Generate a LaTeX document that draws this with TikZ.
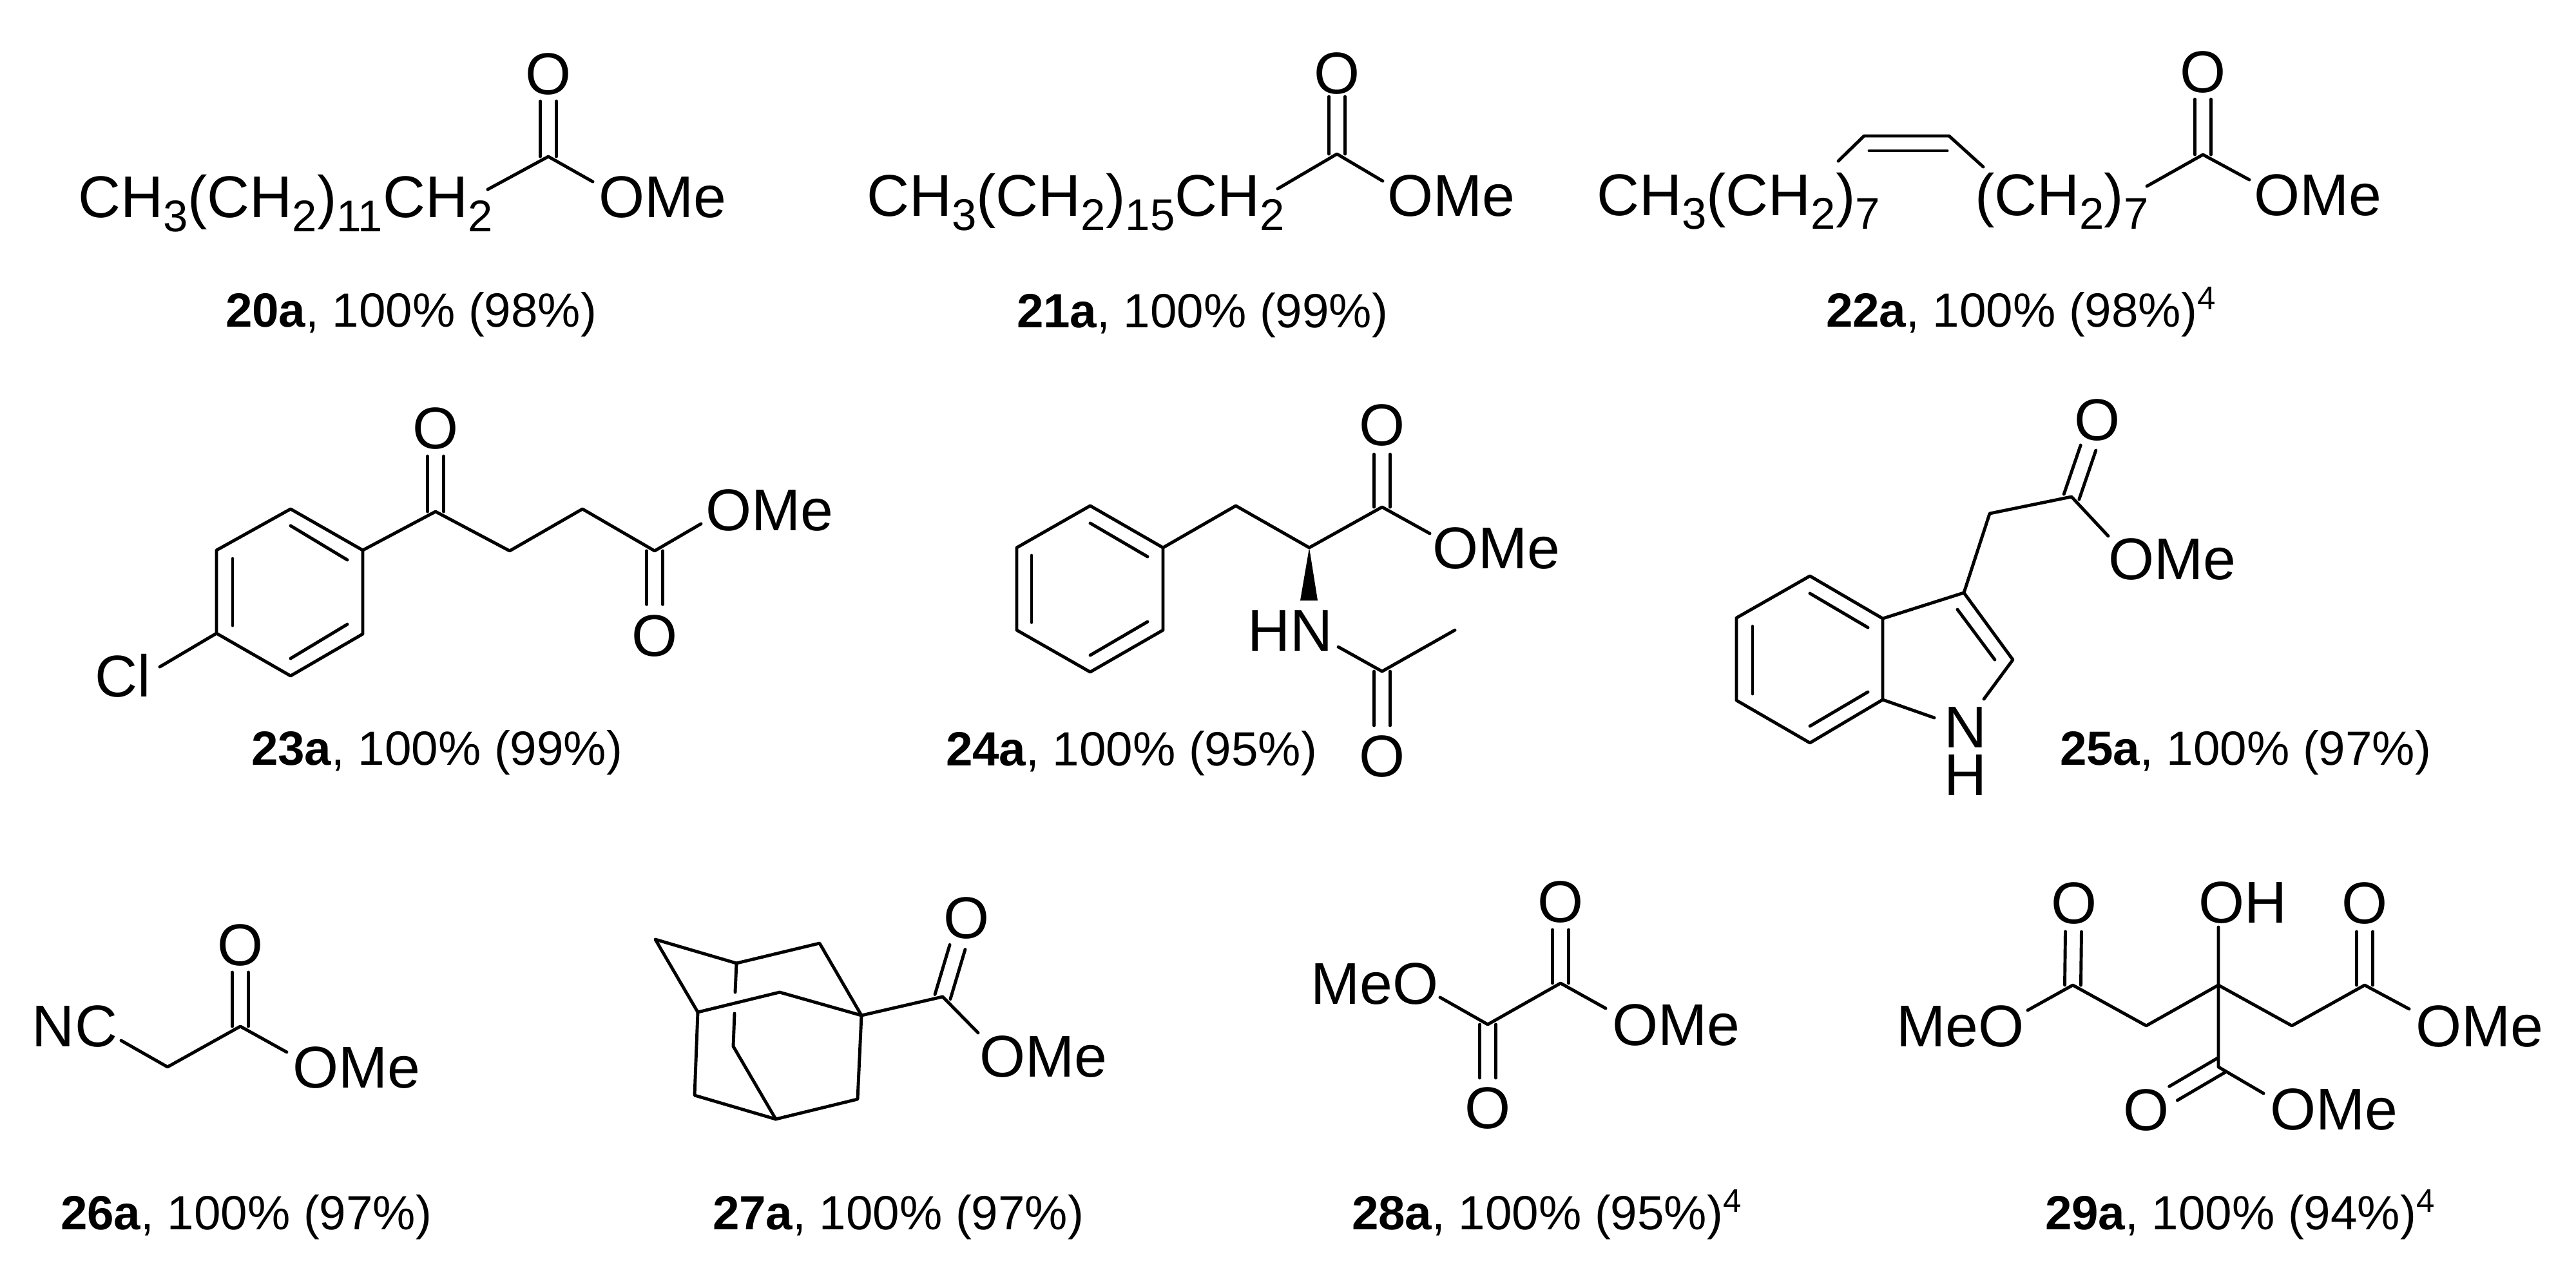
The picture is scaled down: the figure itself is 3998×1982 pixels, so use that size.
\documentclass[tikz,border=0pt]{standalone}
\usepackage{fontspec}
\setmainfont{Liberation Sans}
\usetikzlibrary{calc}
\newcommand{\sbs}[1]{\raisebox{-6.2pt}{\fontsize{19.6}{20}\selectfont #1}}
\newcommand{\spr}{\raisebox{7.8pt}{\fontsize{14.5}{15}\selectfont 4}}
\newcommand{\dblbond}[3][3.55pt]{%
  \draw[bond] ($(#2)!#1!90:(#3)$) -- ($(#3)!#1!-90:(#2)$);
  \draw[bond] ($(#2)!#1!-90:(#3)$) -- ($(#3)!#1!90:(#2)$);}
\newcommand{\atoms}[1]{\foreach \n/\px/\py in {#1}{\coordinate (\n) at (\px,\py);}}
\newcommand{\chain}[1]{\draw[bond] #1;}
\tikzset{
  bond/.style={line width=1.4pt,line cap=round,line join=round,draw=black},
  chem/.style={anchor=base west,inner sep=0pt,outer sep=0pt,font=\fontsize{26}{30}\selectfont},
  lab/.style={anchor=base west,inner sep=0pt,outer sep=0pt,yshift=-1pt,font=\fontsize{21.2}{26}\selectfont},
  oxy/.style={anchor=center,inner sep=0pt,outer sep=0pt,yshift=-0.6pt,font=\fontsize{26}{30}\selectfont}
}
\begin{document}
\begin{tikzpicture}[x=0.01cm,y=-0.01cm]
\useasboundingbox (0,0) rectangle (3998,1982);

% 20a
\atoms{a20c/851/243,a20o/851/157,a20l/757/294,a20r/920/282}
\dblbond{a20c}{a20o}
\chain{(a20l) -- (a20c) -- (a20r)}
\node[chem] (t20a) at (121,337.5) {CH\sbs{3}(CH\sbs{2})\sbs{11}CH\sbs{2}};
\node[chem] (t20b) at (929,337.5) {OMe};
\node[oxy] (t20o) at (851,113) {O};
\node[lab] (l20) at (350,504) {\textbf{20a}, 100\% (98\%)};

% 21a
\atoms{a21c/2075/239,a21o/2075/150,a21l/1983/293,a21r/2146/281}
\dblbond{a21c}{a21o}
\chain{(a21l) -- (a21c) -- (a21r)}
\node[chem] (t21a) at (1345,336) {CH\sbs{3}(CH\sbs{2})\sbs{15}CH\sbs{2}};
\node[chem] (t21b) at (2153,336) {OMe};
\node[oxy] (t21o) at (2075,112) {O};
\node[lab] (l21) at (1578,505) {\textbf{21a}, 100\% (99\%)};

% 22a
\atoms{a22c/3419/240,a22o/3419/154,a22l/3332/289,a22r/3491/279,
  a22p/2853/250,a22q/2893/211,a22s/3025/211,a22t/3078/259,a22u/2901/234,a22v/3022/234}
\dblbond{a22c}{a22o}
\chain{(a22l) -- (a22c) -- (a22r)}
\chain{(a22p) -- (a22q) -- (a22s) -- (a22t)}
\chain{(a22u) -- (a22v)}
\node[chem] (t22a) at (2478,334) {CH\sbs{3}(CH\sbs{2})\sbs{7}};
\node[chem] (t22m) at (3065,334) {(CH\sbs{2})\sbs{7}};
\node[chem] (t22b) at (3498,334) {OMe};
\node[oxy] (t22o) at (3419,110) {O};
\node[lab] (l22) at (2834,504) {\textbf{22a}, 100\% (98\%)\spr};

% 23a
\atoms{a23a/451/790,a23b/563/854,a23c/563/984,a23d/451/1049,a23e/336/983,a23f/336/854,
  a23g/451/816,a23h/539/869,a23i/361/867,a23j/361/971,a23k/451/1022,a23m/539/969,
  a23cl/248/1035,a23n/676/794,a23o/676/708,a23p/791/855,a23q/904/790,a23r/1016/855,
  a23s/1088/813,a23t/1016/938}
\chain{(a23a) -- (a23b) -- (a23c) -- (a23d) -- (a23e) -- (a23f) -- cycle}
\chain{(a23g) -- (a23h)}
\chain{(a23i) -- (a23j)}
\chain{(a23k) -- (a23m)}
\chain{(a23e) -- (a23cl)}
\chain{(a23b) -- (a23n) -- (a23p) -- (a23q) -- (a23r) -- (a23s)}
\dblbond{a23n}{a23o}
\dblbond{a23r}{a23t}
\node[chem] (t23c) at (147,1081) {Cl};
\node[chem] (t23b) at (1095,823) {OMe};
\node[oxy] (t23o) at (676,663) {O};
\node[oxy] (t23p) at (1016,985) {O};
\node[lab] (l23) at (390,1184) {\textbf{23a}, 100\% (99\%)};

% 24a
\atoms{a24a/1692/785,a24b/1805/850,a24c/1805/978,a24d/1692/1043,a24e/1578/978,a24f/1578/850,
  a24g/1692/812,a24h/1781/864,a24i/1601/862,a24j/1601/966,a24k/1692/1017,a24m/1781/965,
  a24n/1918/785,a24p/2032/850,a24q/2145/787,a24r/2219/828,a24s/2145/705,
  a24w/2018/932,a24x/2045/932,a24y/2077/1004,a24z/2145/1042,a24aa/2258/978,a24ab/2145/1126}
\chain{(a24a) -- (a24b) -- (a24c) -- (a24d) -- (a24e) -- (a24f) -- cycle}
\chain{(a24g) -- (a24h)}
\chain{(a24i) -- (a24j)}
\chain{(a24k) -- (a24m)}
\chain{(a24b) -- (a24n) -- (a24p) -- (a24q) -- (a24r)}
\dblbond{a24q}{a24s}
\fill[black] (a24p) -- (a24w) -- (a24x) -- cycle;
\chain{(a24y) -- (a24z) -- (a24aa)}
\dblbond{a24z}{a24ab}
\node[chem] (t24b) at (2223,882) {OMe};
\node[chem] (t24n) at (1936,1010) {HN};
\node[oxy] (t24o) at (2145,658) {O};
\node[oxy] (t24p) at (2145,1172) {O};
\node[lab] (l24) at (1468,1185) {\textbf{24a}, 100\% (95\%)};

% 25a
\atoms{a25a/2809/894,a25b/2922/960,a25c/2922/1086,a25d/2809/1153,a25e/2695/1087,a25f/2695/959,
  a25g/2809/921,a25h/2899/974,a25i/2720/972,a25j/2720/1077,a25k/2809/1127,a25m/2899/1074,
  a25n/3048/920,a25p/3124/1024,a25q/3079/1085,a25r/3002/1114,a25s/3038/946,a25t/3096/1024,
  a25u/3088/797,a25v/3215/771,a25w/3272/832,a25x/3241/695}
\chain{(a25a) -- (a25b) -- (a25c) -- (a25d) -- (a25e) -- (a25f) -- cycle}
\chain{(a25g) -- (a25h)}
\chain{(a25i) -- (a25j)}
\chain{(a25k) -- (a25m)}
\chain{(a25b) -- (a25n) -- (a25p) -- (a25q)}
\chain{(a25c) -- (a25r)}
\chain{(a25s) -- (a25t)}
\chain{(a25n) -- (a25u) -- (a25v) -- (a25w)}
\dblbond{a25v}{a25x}
\node[chem] (t25b) at (3272,899) {OMe};
\node[chem] (t25n) at (3017,1160) {N};
\node[chem] (t25h) at (3017,1234) {H};
\node[oxy] (t25o) at (3255,650) {O};
\node[lab] (l25) at (3197,1184) {\textbf{25a}, 100\% (97\%)};

% 26a
\atoms{a26a/188/1615,a26b/260/1656,a26c/373/1593,a26d/445/1633,a26e/373/1509}
\chain{(a26a) -- (a26b) -- (a26c) -- (a26d)}
\dblbond{a26c}{a26e}
\node[chem] (t26n) at (50,1624) {NC};
\node[chem] (t26b) at (454,1688) {OMe};
\node[oxy] (t26o) at (373,1465) {O};
\node[lab] (l26) at (94,1905) {\textbf{26a}, 100\% (97\%)};

% 27a
\atoms{a27a/1017/1458,a27b/1143/1495,a27c/1272/1464,a27d/1337/1576,a27e/1210/1540,a27f/1083/1571,
  a27g/1078/1700,a27h/1204/1737,a27i/1331/1706,a27j/1138/1624,a27k/1141/1540,a27m/1140/1573,
  a27n/1463/1547,a27p/1518/1603,a27q/1486/1470}
\chain{(a27a) -- (a27b) -- (a27c) -- (a27d) -- (a27e) -- (a27f) -- cycle}
\chain{(a27f) -- (a27g) -- (a27h) -- (a27i) -- (a27d)}
\chain{(a27b) -- (a27k)}
\chain{(a27m) -- (a27j) -- (a27h)}
\chain{(a27d) -- (a27n) -- (a27p)}
\dblbond{a27n}{a27q}
\node[chem] (t27b) at (1520,1671) {OMe};
\node[oxy] (t27o) at (1500,1423) {O};
\node[lab] (l27) at (1106,1905) {\textbf{27a}, 100\% (97\%)};

% 28a
\atoms{a28a/2235/1548,a28b/2309/1590,a28c/2422/1526,a28d/2492/1565,a28e/2422/1443,a28f/2309/1673}
\chain{(a28a) -- (a28b) -- (a28c) -- (a28d)}
\dblbond{a28c}{a28e}
\dblbond{a28b}{a28f}
\node[chem] (t28m) at (2034,1558) {MeO};
\node[chem] (t28b) at (2502,1622) {OMe};
\node[oxy] (t28o) at (2422,1398) {O};
\node[oxy] (t28p) at (2309,1718) {O};
\node[lab] (l28) at (2098,1905) {\textbf{28a}, 100\% (95\%)\spr};

% 29a
\atoms{a29a/3147/1568,a29b/3217/1529,a29c/3331/1592,a29d/3443/1529,a29e/3557/1592,a29f/3670/1529,
  a29g/3739/1566,a29h/3443/1439,a29i/3443/1656,a29j/3513/1697,a29k/3218/1446,a29m/3670/1446,
  a29n/3448/1653,a29p/3373/1697}
\chain{(a29a) -- (a29b) -- (a29c) -- (a29d) -- (a29e) -- (a29f) -- (a29g)}
\chain{(a29h) -- (a29i) -- (a29j)}
\dblbond{a29b}{a29k}
\dblbond{a29f}{a29m}
\dblbond{a29n}{a29p}
\node[chem] (t29m) at (2943,1624) {MeO};
\node[chem] (t29b) at (3749,1624) {OMe};
\node[chem] (t29h) at (3412,1432) {OH};
\node[chem] (t29c) at (3523,1753) {OMe};
\node[oxy] (t29o) at (3219,1400) {O};
\node[oxy] (t29p) at (3670,1400) {O};
\node[oxy] (t29q) at (3331,1721) {O};
\node[lab] (l29) at (3174,1905) {\textbf{29a}, 100\% (94\%)\spr};
\end{tikzpicture}
\end{document}
